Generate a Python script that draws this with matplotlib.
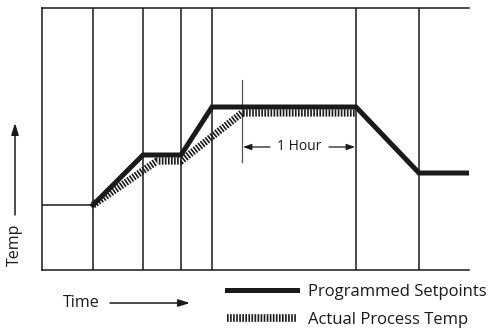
import matplotlib
matplotlib.use("Agg")
import matplotlib.pyplot as plt
from matplotlib.lines import Line2D

# ramp/soak profile (time and temp in arbitrary units)
setpoint_time = [0, 51, 101, 139, 170, 314, 377, 427]
setpoint_temp = [65, 65, 115, 115, 163, 163, 97, 97]
actual_time = [51, 115, 139, 200, 314]
actual_temp = [65, 109, 109, 157, 157]
soak_label = "1 Hour"
legend_labels = ["Programmed Setpoints", "Actual Process Temp"]

plt.rcParams['font.family'] = ['Open Sans', 'DejaVu Sans']
plt.rcParams['lines.scale_dashes'] = False
ink = '#1a1a1a'

fig = plt.figure(figsize=(4.92, 3.35), dpi=100)
ax = fig.add_axes([42 / 492, 65 / 335, 427 / 492, 262 / 335])
ax.set_xlim(0, 427)
ax.set_ylim(0, 262)
ax.set_xticks([])
ax.set_yticks([])
ax.spines['right'].set_visible(False)
for s in ['left', 'top', 'bottom']:
    ax.spines[s].set_linewidth(1.1)
    ax.spines[s].set_color(ink)

# segment boundaries
for t in setpoint_time[1:-1]:
    ax.axvline(t, color=ink, lw=1.1)

# hatched actual temperature (drawn under the setpoint)
hatch_ls = (0, (1.2, 1.0))
ax.plot(actual_time, actual_temp, color=ink, lw=5.2, linestyle=hatch_ls, zorder=3)

# thin hold before program start, then thick programmed setpoints
ax.plot(setpoint_time[:2], setpoint_temp[:2], color=ink, lw=1.1, zorder=4)
ax.plot(setpoint_time[1:], setpoint_temp[1:], color=ink, lw=3.6,
        solid_joinstyle='miter', zorder=4)

# soak marker and "1 Hour" span
ax.plot([actual_time[3], actual_time[3]], [108, 190], color='#555555', lw=0.9)
y_span = 123
ax.text((actual_time[3] + setpoint_time[5]) / 2, y_span, soak_label,
        ha='center', va='center', fontsize=10, color=ink)
arr = dict(arrowstyle='-|>,head_length=0.5,head_width=0.18', color=ink, lw=0.9,
           shrinkA=0, shrinkB=0)
ax.annotate('', xy=(actual_time[3] + 1, y_span), xytext=(228, y_span), arrowprops=arr)
ax.annotate('', xy=(setpoint_time[5] - 1, y_span), xytext=(287, y_span), arrowprops=arr)

# axis captions with arrows
big = dict(arrowstyle='-|>,head_length=0.7,head_width=0.22', color=ink, lw=1.1,
           shrinkA=0, shrinkB=0)
fig.text(15 / 492, 90 / 335, 'Temp', rotation=90, ha='center', va='center',
         fontsize=11.5, color=ink)
ax.annotate('', xy=(15, 212), xytext=(15, 120), xycoords='figure pixels',
            textcoords='figure pixels', arrowprops=big)
fig.text(81 / 492, 32 / 335, 'Time', ha='center', va='center', fontsize=11.5, color=ink)
ax.annotate('', xy=(190, 32), xytext=(110, 32), xycoords='figure pixels',
            textcoords='figure pixels', arrowprops=big)

handles = [Line2D([], [], color=ink, lw=3.6),
           Line2D([], [], color=ink, lw=5.5, linestyle=hatch_ls)]
fig.legend(handles, legend_labels, loc='upper left',
           bbox_to_anchor=(227 / 492, 51 / 335), frameon=False, fontsize=12,
           handlelength=4.2, handletextpad=0.65, labelspacing=0.72,
           borderpad=0, borderaxespad=0, labelcolor=ink)

fig.savefig('out.png', dpi=100)
